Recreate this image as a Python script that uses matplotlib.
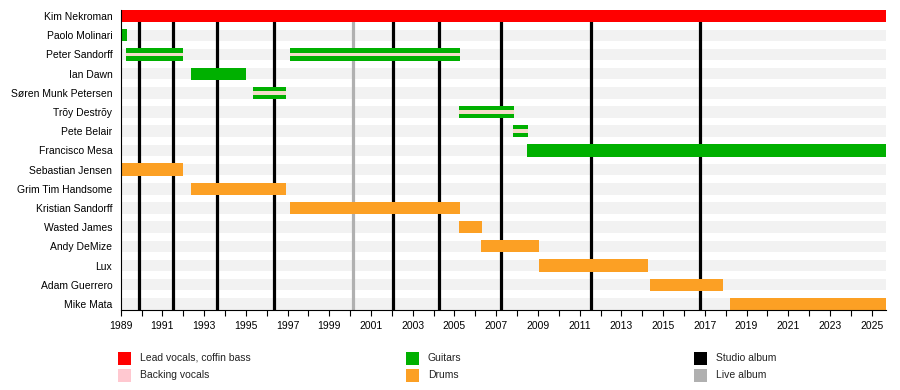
import matplotlib
matplotlib.use("Agg")
import matplotlib.pyplot as plt
from matplotlib.patches import Rectangle

plt.rcParams['font.family'] = ['Liberation Sans', 'DejaVu Sans']

members = ["Kim Nekroman", "Paolo Molinari", "Peter Sandorff", "Ian Dawn",
           "Søren Munk Petersen", "Trõy Destrõy", "Pete Belair", "Francisco Mesa",
           "Sebastian Jensen", "Grim Tim Handsome", "Kristian Sandorff",
           "Wasted James", "Andy DeMize", "Lux", "Adam Guerrero", "Mike Mata"]

START = 1989.0
END = 2025.67

bar_member = ["Kim Nekroman", "Paolo Molinari", "Peter Sandorff", "Peter Sandorff",
              "Ian Dawn", "Søren Munk Petersen", "Trõy Destrõy", "Pete Belair",
              "Francisco Mesa", "Sebastian Jensen", "Grim Tim Handsome",
              "Kristian Sandorff", "Wasted James", "Andy DeMize", "Lux",
              "Adam Guerrero", "Mike Mata"]
bar_start = [1989.0, 1989.0, 1989.25, 1997.12, 1992.37, 1995.34, 2005.22, 2007.8,
             2008.48, 1989.0, 1992.37, 1997.12, 2005.22, 2006.27, 2009.05,
             2014.37, 2018.2]
bar_end = [END, 1989.29, 1991.97, 2005.27, 1995.0, 1996.91, 2007.85, 2008.52,
           END, 1991.97, 1996.91, 2005.25, 2006.32, 2009.05, 2014.28,
           2017.87, END]
bar_role = ["vocals", "guitars", "guitars", "guitars", "guitars", "guitars",
            "guitars", "guitars", "guitars", "drums", "drums", "drums", "drums",
            "drums", "drums", "drums", "drums"]
bar_backing = [False, False, True, True, False, True, True, True, False,
               False, False, False, False, False, False, False, False]

studio_albums = [1989.89, 1991.52, 1993.63, 1996.35, 2002.07, 2004.27,
                 2007.25, 2011.56, 2016.77]
live_albums = [2000.15]

role_colors = {"vocals": "#ff0000", "guitars": "#00b000", "drums": "#fca024"}
backing_color = "#f4dcc8"
legend_labels = ["Lead vocals, coffin bass", "Backing vocals", "Guitars", "Drums",
                 "Studio album", "Live album"]
legend_colors = ["#ff0000", "#ffc8d0", "#00b000", "#fca024", "#000000", "#b0b0b0"]

fig = plt.figure(figsize=(9, 3.9), dpi=100)
ax = fig.add_axes([0.1341, 0.2051, 0.8500, 0.7693])

rows = list(range(len(members)))
# background bands
ax.barh(rows, [END - START] * len(rows), left=START, height=0.6,
        color="#f2f2f2", zorder=0)

for x in studio_albums:
    ax.axvline(x, color="black", lw=2.3, zorder=1)
for x in live_albums:
    ax.axvline(x, color="#b0b0b0", lw=2.3, zorder=1)

for m, s, e, r, b in zip(bar_member, bar_start, bar_end, bar_role, bar_backing):
    y = members.index(m)
    ax.barh(y, e - s, left=s, height=0.64, color=role_colors[r], zorder=2)
    if b:
        ax.barh(y, e - s, left=s, height=0.2, color=backing_color, zorder=3)

ax.set_xlim(START, END)
ax.set_ylim(15.32, -0.32)
ax.set_yticks(rows)
ax.set_yticklabels(members, fontsize=7.5)
ax.tick_params(axis='y', length=0, pad=6)
ax.set_xticks(range(1989, 2026, 2))
ax.set_xticks(range(1989, 2026), minor=True)
ax.tick_params(axis='x', which='both', length=4.5, width=0.8, labelsize=7.5,
               pad=3.5, direction='out')
for sp in ["top", "right"]:
    ax.spines[sp].set_visible(False)
ax.spines["left"].set_linewidth(0.8)
ax.spines["bottom"].set_linewidth(0.8)

# legend (manual, three columns)
col_x = [118, 406, 694]
row_y = [358, 375]
W, H = 900, 390
for i, (lab, col) in enumerate(zip(legend_labels, legend_colors)):
    cx = col_x[i // 2]
    cy = row_y[i % 2]
    fig.add_artist(Rectangle(((cx) / W, (H - cy - 6.5) / H), 12.5 / W, 13 / H,
                             transform=fig.transFigure, color=col, lw=0))
    fig.text((cx + 22) / W, (H - cy) / H, lab, fontsize=7.5, va='center',
             ha='left', color="#222222")

fig.savefig("out.png", dpi=100)
